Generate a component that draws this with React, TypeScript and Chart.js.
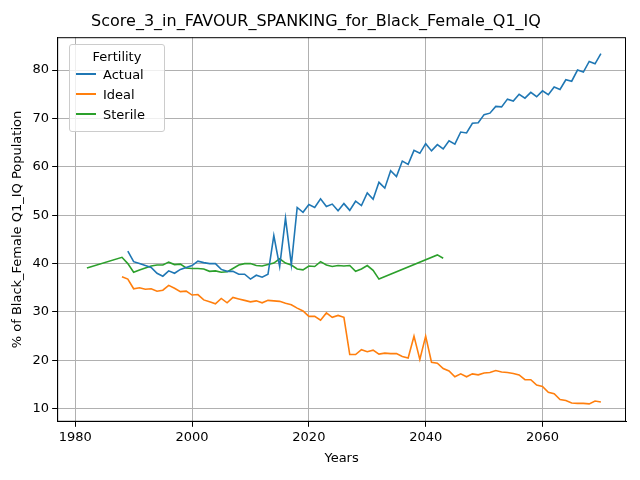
import { useEffect, useRef } from 'react';
import { Chart, registerables } from 'chart.js';

Chart.register(...registerables);

const actualStart = 1989;
const actualValues = [42.6, 40.4, 40, 39.6, 39.2, 38, 37.4, 38.5, 38, 38.8, 39.2, 39.6, 40.5, 40.2, 40, 40, 38.8, 38.4, 38.4, 37.8, 37.8, 36.8, 37.6, 37.2, 37.8, 45.8, 39.4, 49.4, 39.8, 51.6, 50.6, 52.2, 51.6, 53.4, 51.8, 52.3, 50.9, 52.4, 51, 52.9, 52, 54.6, 53.3, 56.8, 55.6, 59.2, 58, 61.2, 60.5, 63.4, 62.8, 64.8, 63.3, 64.6, 63.7, 65.4, 64.7, 67.2, 67, 69, 69.1, 70.8, 71.1, 72.5, 72.4, 74, 73.6, 75, 74.2, 75.4, 74.5, 75.7, 74.9, 76.5, 76, 78, 77.7, 80, 79.6, 81.8, 81.3, 83.4];

const idealStart = 1988;
const idealValues = [37.3, 36.8, 34.8, 35, 34.7, 34.8, 34.3, 34.5, 35.5, 34.9, 34.2, 34.3, 33.5, 33.6, 32.5, 32.1, 31.7, 32.8, 31.9, 33, 32.7, 32.4, 32.1, 32.3, 31.9, 32.4, 32.3, 32.2, 31.8, 31.5, 30.8, 30.2, 29.1, 29.1, 28.3, 29.8, 28.9, 29.3, 28.9, 21.2, 21.2, 22.2, 21.8, 22.1, 21.3, 21.5, 21.4, 21.4, 20.8, 20.5, 25, 20.2, 25, 19.6, 19.4, 18.3, 17.8, 16.6, 17.2, 16.6, 17.2, 17, 17.4, 17.5, 17.9, 17.6, 17.5, 17.3, 17, 16, 16, 14.9, 14.6, 13.4, 13.1, 11.9, 11.7, 11.2, 11.1, 11.1, 11.0, 11.6, 11.4];

const sterileYears = [1982, 1988, 1989, 1990, 1991, 1992, 1993, 1994, 1995, 1996, 1997, 1998, 1999, 2000, 2001, 2002, 2003, 2004, 2005, 2006, 2007, 2008, 2009, 2010, 2011, 2012, 2013, 2014, 2015, 2016, 2017, 2018, 2019, 2020, 2021, 2022, 2023, 2024, 2025, 2026, 2027, 2028, 2029, 2030, 2031, 2032, 2042, 2043];
const sterileValues = [39.1, 41.3, 40, 38.2, 38.7, 39.1, 39.5, 39.7, 39.7, 40.3, 39.8, 39.9, 39.1, 39, 39, 38.9, 38.4, 38.5, 38.2, 38.3, 39, 39.7, 40, 40, 39.6, 39.5, 39.8, 40.1, 41, 40.1, 39.7, 38.9, 38.7, 39.5, 39.4, 40.4, 39.7, 39.4, 39.6, 39.5, 39.6, 38.4, 38.9, 39.6, 38.6, 36.8, 41.8, 41.1];

const xTicks = [1980, 2000, 2020, 2040, 2060];
const yTicks = [10, 20, 30, 40, 50, 60, 70, 80];

const seriesNames = ['Actual', 'Ideal', 'Sterile'];
const seriesColors = ['#1f77b4', '#ff7f0e', '#2ca02c'];

const fromStart = (start: number, vals: number[]) => vals.map((y, i) => ({ x: start + i, y }));

// full frame round the plot area, like matplotlib
const frame = {
  id: 'frame',
  afterDraw(chart: Chart) {
    const { ctx, chartArea: a } = chart;
    ctx.save();
    ctx.strokeStyle = '#000';
    ctx.lineWidth = 1;
    ctx.strokeRect(a.left + 0.5, a.top + 0.5, a.right - a.left - 1, a.bottom - a.top - 1);
    ctx.restore();
  },
};

export default function App() {
  const canvasRef = useRef<HTMLCanvasElement>(null);

  useEffect(() => {
    if (!canvasRef.current) return;
    const font = { family: 'DejaVu Sans', size: 13 };
    const chart = new Chart(canvasRef.current, {
      type: 'line',
      data: {
        datasets: [
          fromStart(actualStart, actualValues),
          fromStart(idealStart, idealValues),
          sterileYears.map((x, i) => ({ x, y: sterileValues[i] })),
        ].map((data, i) => ({
          label: seriesNames[i],
          data,
          borderColor: seriesColors[i],
          backgroundColor: seriesColors[i],
          borderWidth: 1.6,
          pointRadius: 0,
          tension: 0,
        })),
      },
      plugins: [frame],
      options: {
        animation: false,
        responsive: false,
        layout: { padding: { left: 6, right: 14, top: 2, bottom: 10 } },
        plugins: {
          legend: { display: false },
          tooltip: { enabled: false },
          title: {
            display: true,
            text: 'Score_3_in_FAVOUR_SPANKING_for_Black_Female_Q1_IQ',
            color: '#000',
            font: { family: 'DejaVu Sans', size: 16, weight: 'normal' },
            padding: { top: 10, bottom: 6 },
          },
        },
        scales: {
          x: {
            type: 'linear',
            min: 1976.9,
            max: 2074.3,
            afterBuildTicks: (axis) => { axis.ticks = xTicks.map((value) => ({ value })); },
            ticks: { color: '#000', font, callback: (v) => String(v), maxRotation: 0 },
            grid: { color: '#b0b0b0', tickColor: '#000', tickLength: 5 },
            border: { color: '#000' },
            title: { display: true, text: 'Years', color: '#000', font, padding: { top: 2 } },
          },
          y: {
            min: 7.3,
            max: 86.8,
            afterBuildTicks: (axis) => { axis.ticks = yTicks.map((value) => ({ value })); },
            ticks: { color: '#000', font },
            grid: { color: '#b0b0b0', tickColor: '#000', tickLength: 5 },
            border: { color: '#000' },
            title: { display: true, text: '% of Black_Female Q1_IQ Population', color: '#000', font, padding: { bottom: 4 } },
          },
        },
      },
    });
    return () => chart.destroy();
  }, []);

  return (
    <div style={{ position: 'fixed', left: 0, top: 0, width: 640, height: 480, background: '#fff' }}>
      <canvas ref={canvasRef} width={640} height={480} />
      <div style={{
        position: 'absolute', left: 69, top: 44, width: 96, height: 88,
        border: '1px solid #ccc', borderRadius: 3, background: 'rgba(255,255,255,0.8)',
        fontFamily: 'DejaVu Sans', fontSize: 13, color: '#000', boxSizing: 'border-box',
      }}>
        <div style={{ textAlign: 'center', marginTop: 4 }}>Fertility</div>
        {seriesNames.map((n, i) => (
          <div key={n} style={{ display: 'flex', alignItems: 'center', height: 20, marginLeft: 6 }}>
            <div style={{ width: 20, height: 2, background: seriesColors[i], marginRight: 7 }} />
            <span>{n}</span>
          </div>
        ))}
      </div>
    </div>
  );
}
